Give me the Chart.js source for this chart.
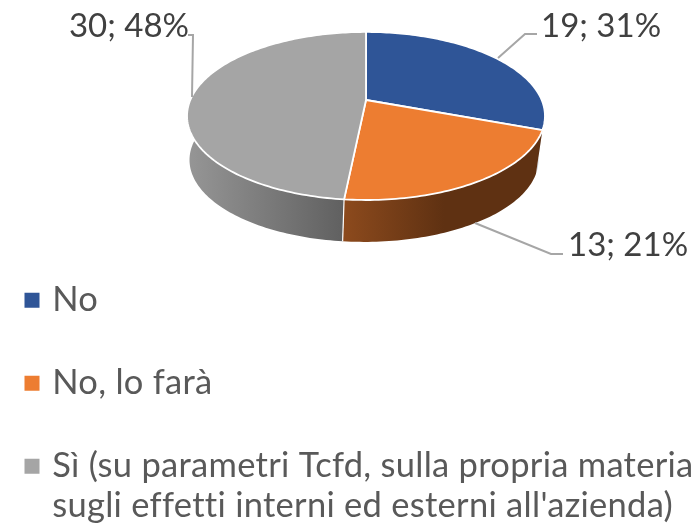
<!DOCTYPE html>
<html>
<head>
<meta charset="utf-8">
<style>html,body{margin:0;padding:0;background:#fff}#wrap{width:696px;height:528px;overflow:hidden}</style>
<script src="https://cdn.jsdelivr.net/npm/chart.js@4"></script>
</head>
<body>
<div id="wrap"><canvas id="c" width="696" height="528"></canvas></div>
<script>
const categories = ['No', 'No, lo farà', ['Sì (su parametri Tcfd, sulla propria materia', "sugli effetti interni ed esterni all'azienda)"]];
const values = [19, 13, 30];
const topColors = ['#2F5597', '#ED7D31', '#A5A5A5'];
const wallLeft = ['#C5CAD3', '#8C4A1D', '#959595'];
const wallRight = ['#C5CAD3', '#5F3112', '#606060'];
const labelAnchors = [[541, 26, 'left'], [568, 245, 'left'], [189, 26, 'right']];
const leaderLines = [
  [[498, 58], [525, 34], [537, 34]],
  [[475, 223], [551, 254], [563, 254]],
  [[192, 97], [193, 35], [188, 35]]
];

const G = {cx: 366, cy: 100, a: 175.7, b: 81, p: 0.19, ecy: 116, bcx: 364, bcy: 160, s: 0.975};
function upper(t) {
  const w = 1 - G.p * Math.sin(t);
  return [G.cx + G.a * Math.cos(t) / w, G.cy + G.b * Math.sin(t) / w];
}
function lower(t) {
  const q = upper(t);
  return [G.bcx + G.s * (q[0] - G.cx), G.bcy + G.s * (q[1] - G.ecy)];
}
function samples(a0, a1) {
  const n = Math.max(2, Math.ceil((a1 - a0) / 0.02)), out = [];
  for (let i = 0; i <= n; i++) out.push(a0 + (a1 - a0) * i / n);
  return out;
}

Chart.ArcElement.prototype.draw = function (ctx) {
  const o = this.options;
  ctx.save();
  ctx.beginPath();
  ctx.moveTo(G.cx, G.cy);
  samples(this.startAngle, this.endAngle).forEach(t => { const q = upper(t); ctx.lineTo(q[0], q[1]); });
  ctx.closePath();
  ctx.fillStyle = o.backgroundColor;
  ctx.fill();
  ctx.lineWidth = 1.8;
  ctx.strokeStyle = o.borderColor;
  ctx.lineJoin = 'round';
  ctx.stroke();
  ctx.restore();
};

const pie3d = {
  id: 'pie3d',
  afterLayout(chart) {
    chart.legend.right = chart.width;
  },
  beforeDraw(chart) {
    chart.ctx.letterSpacing = '0.28px';
  },
  beforeDatasetsDraw(chart) {
    const ctx = chart.ctx, arcs = chart.getDatasetMeta(0).data;
    const seam = upper(arcs[1].endAngle)[0];
    arcs.forEach((arc, i) => {
      const ts = samples(arc.startAngle, arc.endAngle);
      const g = i === 2
        ? ctx.createLinearGradient(G.cx - G.a, 0, seam, 0)
        : ctx.createLinearGradient(seam, 0, seam + 100, 0);
      g.addColorStop(0, wallLeft[i]);
      g.addColorStop(1, wallRight[i]);
      ctx.beginPath();
      ts.forEach((t, k) => { const q = upper(t); k ? ctx.lineTo(q[0], q[1]) : ctx.moveTo(q[0], q[1]); });
      ts.slice().reverse().forEach(t => { const q = lower(t); ctx.lineTo(q[0], q[1]); });
      ctx.closePath();
      ctx.fillStyle = g;
      ctx.fill();
    });
    const e = arcs[1].endAngle, a = upper(e), b = lower(e);
    ctx.beginPath(); ctx.moveTo(a[0], a[1]); ctx.lineTo(b[0], b[1]);
    ctx.strokeStyle = '#fff'; ctx.lineWidth = 1.2; ctx.stroke();
  },
  afterDatasetsDraw(chart) {
    const ctx = chart.ctx, total = values.reduce((s, v) => s + v, 0);
    ctx.save();
    ctx.letterSpacing = '0px';
    ctx.strokeStyle = '#A6A6A6'; ctx.lineWidth = 2;
    leaderLines.forEach(l => {
      ctx.beginPath();
      l.forEach((q, k) => k ? ctx.lineTo(q[0], q[1]) : ctx.moveTo(q[0], q[1]));
      ctx.stroke();
    });
    ctx.fillStyle = '#404040';
    ctx.font = '33px Lato';
    ctx.textBaseline = 'middle';
    values.forEach((v, i) => {
      ctx.textAlign = labelAnchors[i][2];
      ctx.fillText(v + '; ' + Math.round(v / total * 100) + '%', labelAnchors[i][0], labelAnchors[i][1]);
    });
    ctx.restore();
  }
};

new Chart(document.getElementById('c'), {
  type: 'pie',
  data: {labels: categories, datasets: [{data: values, backgroundColor: topColors, borderColor: '#ffffff', borderWidth: 0}]},
  options: {
    responsive: false,
    animation: false,
    layout: {padding: {left: -19.5, top: 234.5, bottom: -100}},
    plugins: {
      tooltip: {enabled: false},
      legend: {
        position: 'left',
        align: 'start',
        labels: {
          usePointStyle: true, pointStyle: 'rect',
          boxWidth: 6, boxHeight: 15, padding: 48.5, color: '#595959',
          font: {family: 'Lato', size: 34.5, lineHeight: 1.16}
        }
      }
    }
  },
  plugins: [pie3d]
});
</script>
</body>
</html>
